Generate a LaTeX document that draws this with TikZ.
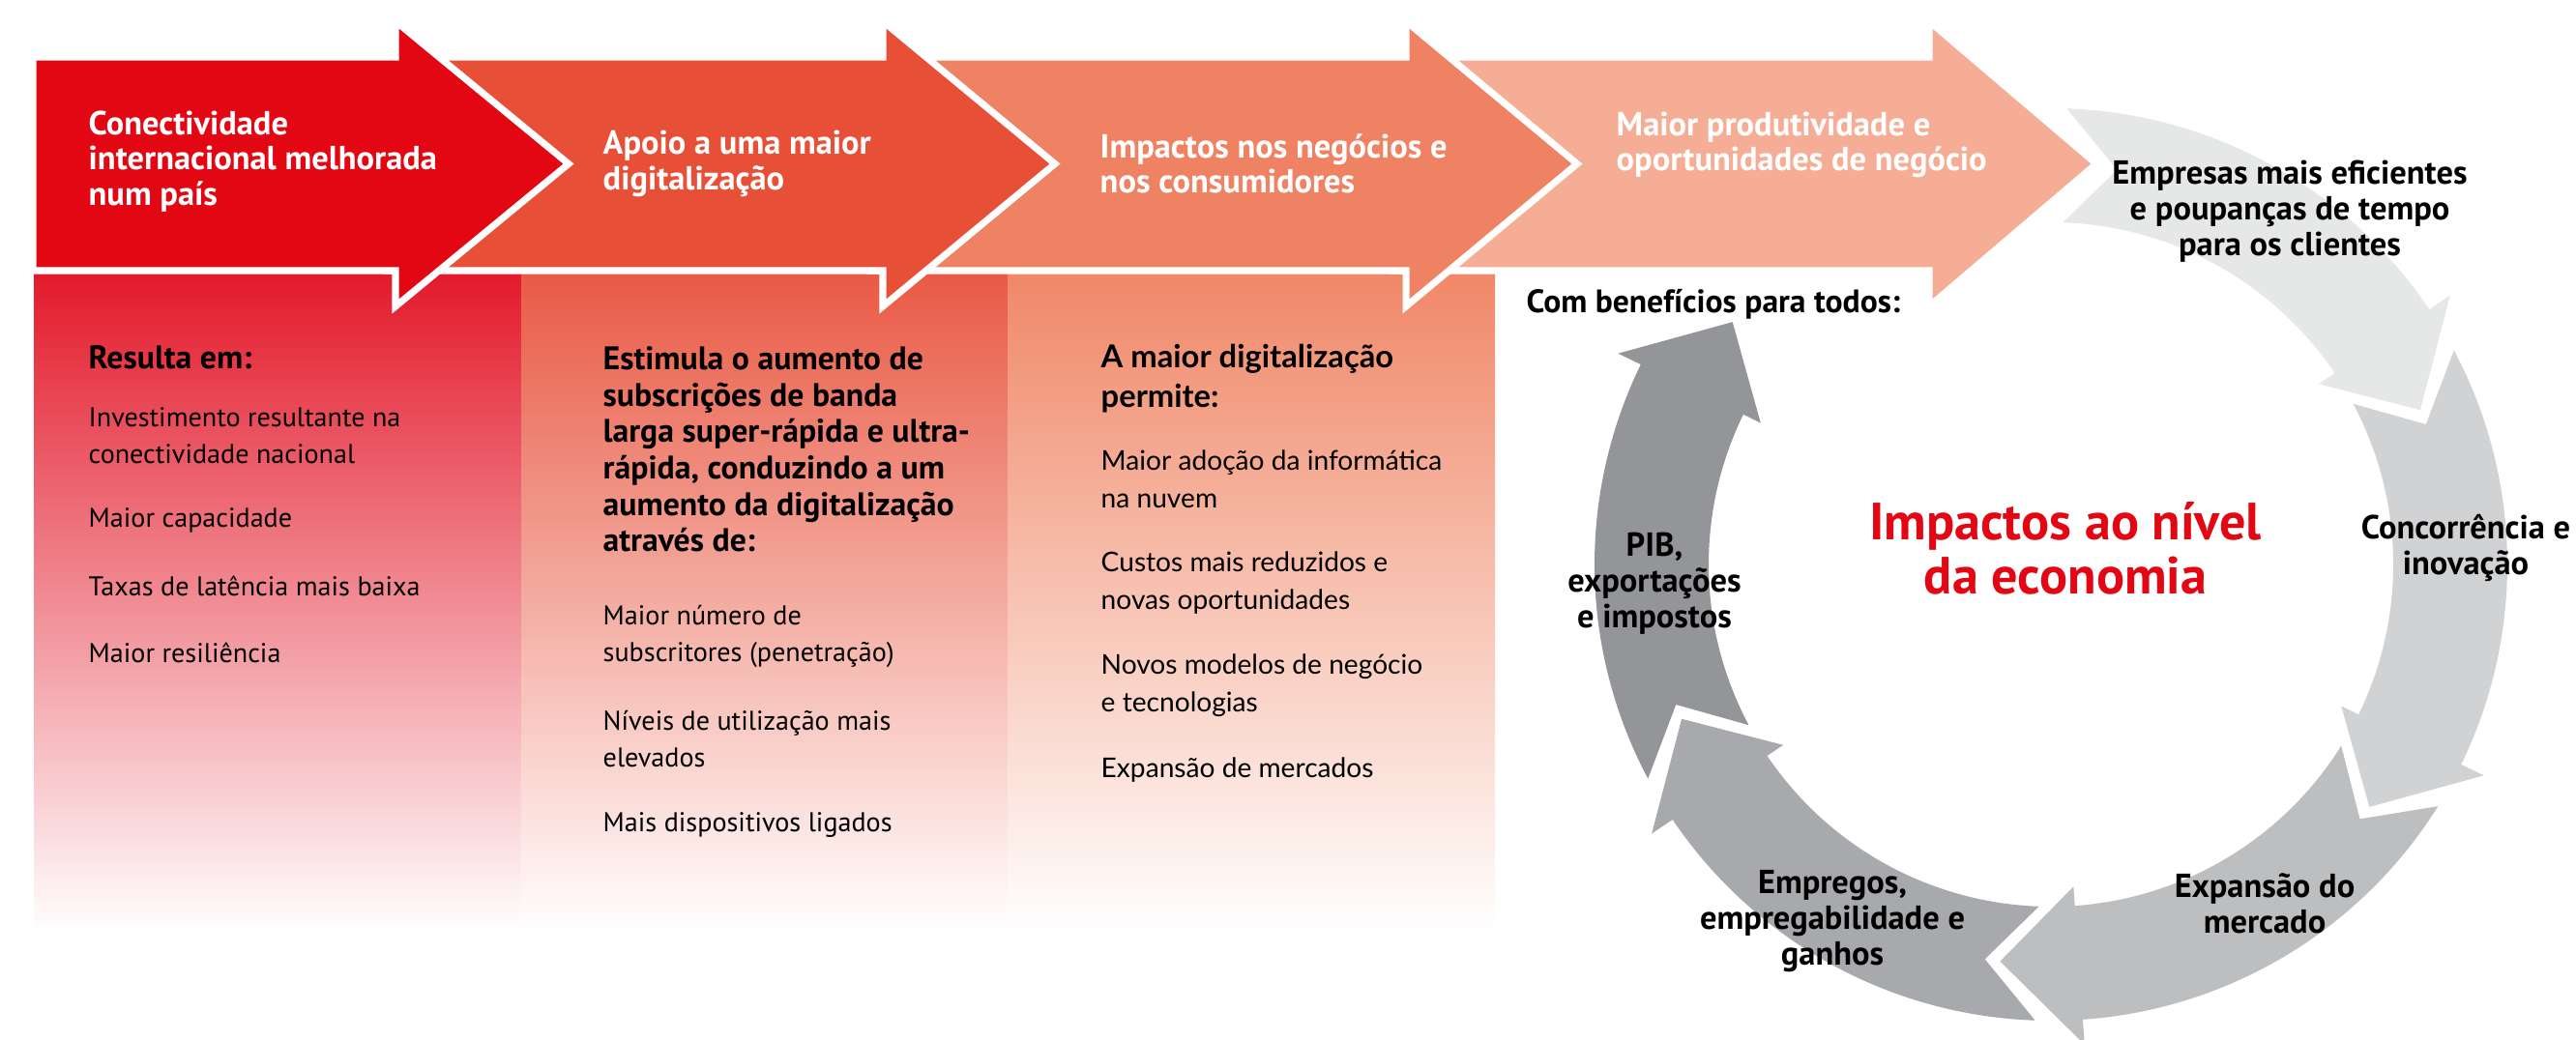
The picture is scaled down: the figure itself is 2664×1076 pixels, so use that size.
\documentclass[tikz,border=0pt]{standalone}
\usepackage{fontspec}
\setmainfont{PT Sans}
\newfontfamily\colfont{Lato}
\usepackage{xcolor}
\usepackage{tikz}
\usetikzlibrary{calc}
\usetikzlibrary{arrows.meta}
\usetikzlibrary{positioning}
\definecolor{vred}{HTML}{E30613}
\definecolor{arrA}{HTML}{E30613}
\definecolor{arrB}{HTML}{E84F37}
\definecolor{arrC}{HTML}{F08264}
\definecolor{arrD}{HTML}{F5AE95}
\definecolor{colA}{HTML}{E31A2B}
\definecolor{colB}{HTML}{E95A45}
\definecolor{colC}{HTML}{F08868}
\definecolor{segA}{HTML}{E6E7E7}
\definecolor{segB}{HTML}{D1D2D4}
\definecolor{segC}{HTML}{BCBEC0}
\definecolor{segD}{HTML}{A7A9AC}
\definecolor{segE}{HTML}{939598}
\tikzset{>=latex}
\tikzstyle{bigarrow} = [draw=white, line width=2pt, miter limit=20]
\tikzstyle{head} = [text=white, anchor=west, align=left, inner sep=0pt, font=\bfseries\fontsize{9.8}{10.3}\selectfont]
\tikzstyle{colhead} = [anchor=west, align=left, inner sep=0pt, font=\bfseries\fontsize{9.6}{10.7}\selectfont]
\tikzstyle{colitem} = [anchor=west, align=left, inner sep=0pt, font=\fontsize{8}{10.8}\selectfont]
\tikzstyle{latohead} = [anchor=west, align=left, inner sep=0pt, font=\colfont\bfseries\fontsize{9.3}{11.7}\selectfont]
\tikzstyle{latoitem} = [anchor=west, align=left, inner sep=0pt, font=\colfont\fontsize{8}{11.1}\selectfont]
\tikzstyle{cycitem} = [align=center, inner sep=0pt, font=\bfseries\fontsize{9.8}{10.5}\selectfont]

\begin{document}
\begin{tikzpicture}[x=0.01cm, y=-0.01cm]
\useasboundingbox (0,0) rectangle (2664,1076);

\shade [top color=colA, bottom color=white] (35,283) rectangle (539,965);
\shade [top color=colB, bottom color=white] (539,283) rectangle (1042,965);
\shade [top color=colC, bottom color=white] (1042,283) rectangle (1546,965);

\foreach \L/\N/\T/\c in {1440/1995/2168/arrD, 900/1454/1631/arrC, 400/913/1091/arrB, 34/409/588/arrA}
  \filldraw [bigarrow, fill=\c] (\L,59) -- (\N,59) -- (\N,22) -- (\T,169.5) -- (\N,317) -- (\N,280) -- (\L,280) -- cycle;

\node [head] (a1) at (91,167) {Conectividade\\internacional melhorada\\num país};
\node [head] (a2) at (623,169.5) {Apoio a uma maior\\digitalização};
\node [head] (a3) at (1137,169) {Impactos nos negócios e\\nos consumidores};
\node [head] (a4) at (1671,150) {Maior produtividade e\\oportunidades de negócio};

\node [colhead] (r0) at (91,370) {Resulta em:};
\node [colitem] (r1) at (91,451) {Investimento resultante na\\conectividade nacional};
\node [colitem] (r2) at (91,538) {Maior capacidade};
\node [colitem] (r3) at (91,606) {Taxas de latência mais baixa};
\node [colitem] (r4) at (91,675) {Maior resiliência};

\node [colhead] (s0) at (623,465) {Estimula o aumento de\\subscrições de banda\\larga super-rápida e ultra-\\rápida, conduzindo a um\\aumento da digitalização\\através de:};
\node [colitem] (s1) at (623,658) {Maior número de\\subscritores (penetração)};
\node [colitem] (s2) at (623,765) {Níveis de utilização mais\\elevados};
\node [colitem] (s3) at (623,854) {Mais dispositivos ligados};

\node [latohead] (p0) at (1138,391.5) {A maior digitalização\\permite:};
\node [latoitem] (p1) at (1138,495.5) {Maior adoção da informática\\na nuvem};
\node [latoitem] (p2) at (1138,603.5) {Custos mais reduzidos e\\novas oportunidades};
\node [latoitem] (p3) at (1138,709.5) {Novos modelos de negócio\\e tecnologias};
\node [latoitem] (p4) at (1138,797) {Expansão de mercados};

\begin{scope}[shift={(2121,584)}, y=0.01cm]
\foreach \a/\c in {88/segA, 28/segB, -32/segC, -92/segD, -152/segE}{
  \pgfmathsetmacro\b{\a-54}
  \pgfmathsetmacro\t{\a-65.3}
  \pgfmathsetmacro\n{\a-7.5}
  \fill [\c] (\a:472) arc [start angle=\a, end angle=\b, radius=472] -- (\b:498) -- (\t:414) -- (\b:334) -- (\b:354) arc [start angle=\b, end angle=\a, radius=354] -- (\n:414) -- cycle;
}
\end{scope}

\node [cycitem, anchor=west, font=\bfseries\fontsize{9.55}{10.5}\selectfont] (ben) at (1578,315) {Com benefícios para todos:};
\node [cycitem] (e1) at (2368,219) {Empresas mais eficientes\\e poupanças de tempo\\para os clientes};
\node [cycitem] (e2) at (2550,567) {Concorrência e\\inovação};
\node [cycitem] (e3) at (2342,934.5) {Expansão do\\mercado};
\node [cycitem] (e4) at (1895,953) {Empregos,\\empregabilidade e\\ganhos};
\node [cycitem] (e5) at (1711,604) {PIB,\\exportações\\e impostos};
\node [align=center, inner sep=0pt, text=vred, font=\bfseries\fontsize{15.4}{15.8}\selectfont] (mid) at (2136,567.5) {Impactos ao nível\\da economia};
\end{tikzpicture}
\end{document}
